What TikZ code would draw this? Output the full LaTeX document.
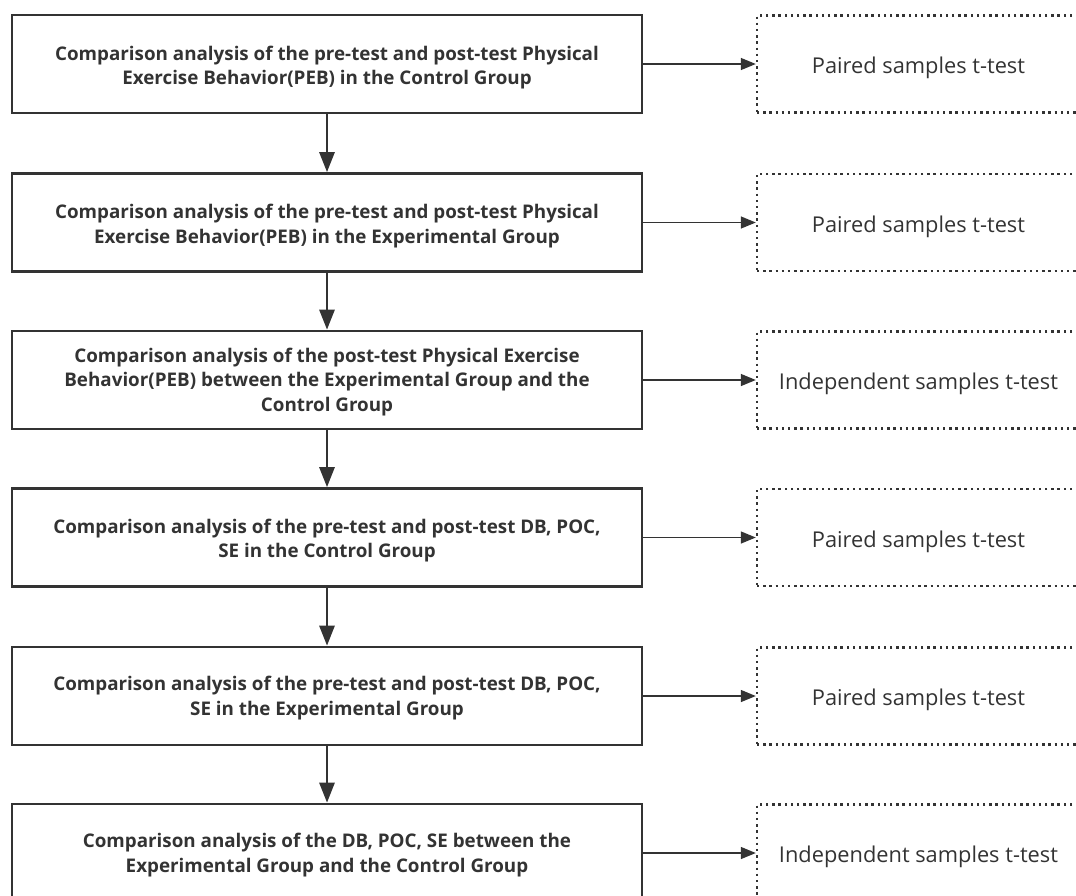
\documentclass[tikz,border=0pt]{standalone}
\usepackage{fontspec}
\setmainfont{Open Sans}
\usetikzlibrary{arrows.meta}
\definecolor{ink}{HTML}{333333}
\begin{document}
\begin{tikzpicture}[x=1pt,y=-1pt,
  stagebox/.style={draw=ink,line width=2.6pt,minimum width=630pt,minimum height=98pt,inner sep=0pt},
  stagetext/.style={align=center,text=ink,inner sep=0pt,font=\fontsize{18.8}{24.5}\selectfont\bfseries},
  testbox/.style={draw=ink,line width=2.4pt,dash pattern=on 2.4pt off 3.8pt,minimum width=323pt,minimum height=97pt,inner sep=0pt},
  testtext/.style={align=center,text=ink,inner sep=0pt,font=\fontsize{21.8}{26}\selectfont},
  downarrow/.style={draw=ink,line width=2.8pt,-{Triangle[length=20pt,width=15pt]}},
  sidearrow/.style={draw=ink,line width=1.4pt,-{Triangle[length=15pt,width=12pt]}}]
\useasboundingbox (0,0) rectangle (1076,895);
\node[stagebox] (s1) at (327,64) {};
\node[stagebox] (s2) at (327,222.5) {};
\node[stagebox] (s3) at (327,380) {};
\node[stagebox] (s4) at (327,537.5) {};
\node[stagebox] (s5) at (327,696) {};
\node[stagebox] (s6) at (327,853) {};
\node[stagetext] (s1t) at ([yshift=-3.5pt]s1.center) {Comparison analysis of the pre-test and post-test Physical\\Exercise Behavior(PEB) in the Control Group};
\node[stagetext] (s2t) at ([yshift=-3.5pt]s2.center) {Comparison analysis of the pre-test and post-test Physical\\Exercise Behavior(PEB) in the Experimental Group};
\node[stagetext] (s3t) at ([yshift=-2pt]s3.center) {Comparison analysis of the post-test Physical Exercise\\Behavior(PEB) between the Experimental Group and the\\Control Group};
\node[stagetext] (s4t) at ([yshift=-3pt]s4.center) {Comparison analysis of the pre-test and post-test DB, POC,\\SE in the Control Group};
\node[stagetext] (s5t) at ([yshift=-2pt]s5.center) {Comparison analysis of the pre-test and post-test DB, POC,\\SE in the Experimental Group};
\node[stagetext] (s6t) at ([yshift=-2pt]s6.center) {Comparison analysis of the DB, POC, SE between the\\Experimental Group and the Control Group};
\node[testbox] (t1) at (918.5,64) {};
\node[testbox] (t2) at (918.5,222.5) {};
\node[testbox] (t3) at (918.5,380) {};
\node[testbox] (t4) at (918.5,537.5) {};
\node[testbox] (t5) at (918.5,696) {};
\node[testbox] (t6) at (918.5,853) {};
\foreach \i/\t in {1/Paired samples t-test,2/Paired samples t-test,3/Independent samples t-test,4/Paired samples t-test,5/Paired samples t-test,6/Independent samples t-test}
  \node[testtext] (t\i t) at ([yshift=-4pt]t\i.center) {\t};
\foreach \a/\b in {s1/s2,s2/s3,s3/s4,s4/s5,s5/s6}
  \draw[downarrow] (\a.south) -- (\b.north);
\foreach \i in {1,...,6}
  \draw[sidearrow] (s\i.east) -- (t\i.west);
\end{tikzpicture}
\end{document}
